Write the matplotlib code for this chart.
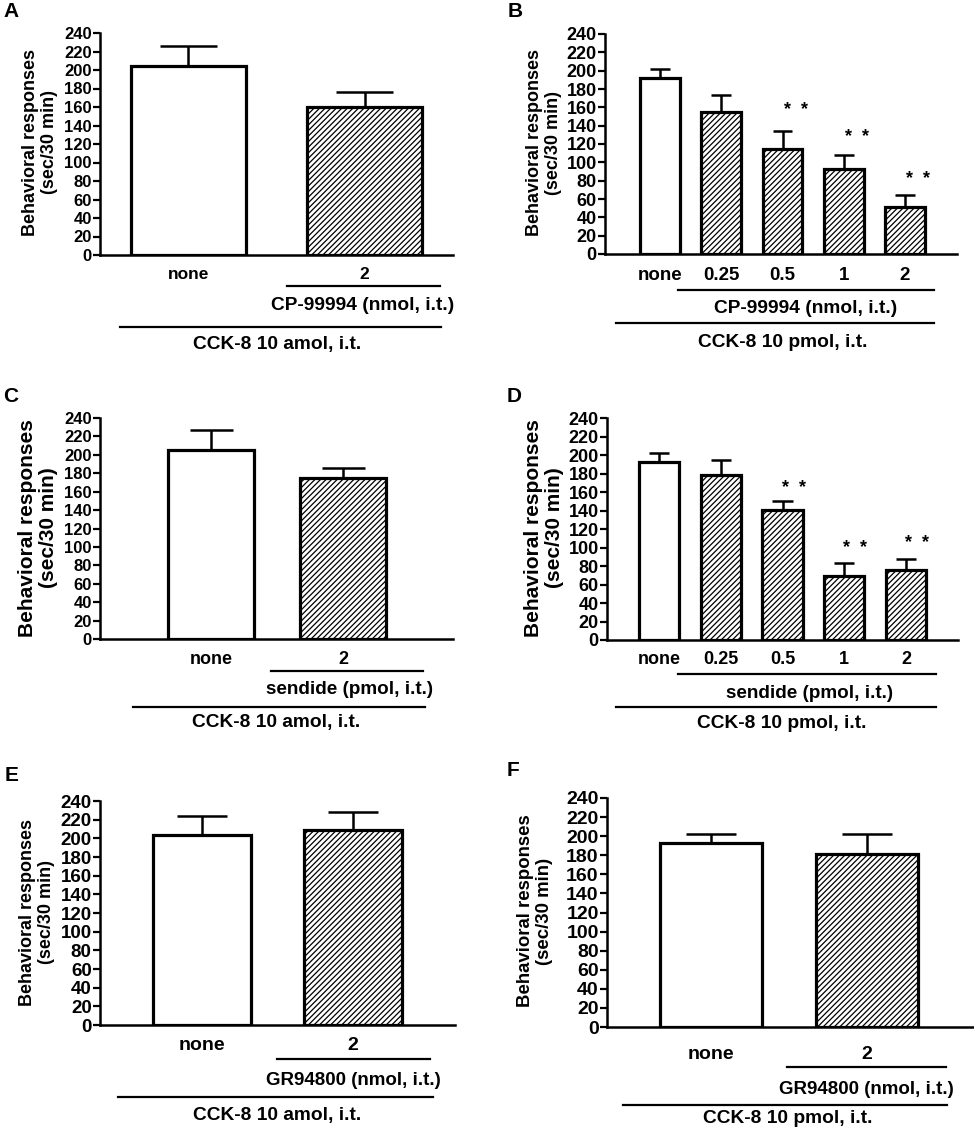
import numpy as np
import matplotlib
matplotlib.use("Agg")
import matplotlib.pyplot as plt
import matplotlib.transforms as mtransforms
from matplotlib.lines import Line2D

plt.rcParams['font.family'] = ['Liberation Sans', 'DejaVu Sans']
plt.rcParams['font.weight'] = 'bold'
plt.rcParams['hatch.linewidth'] = 0.9
plt.rcParams['hatch.color'] = 'black'

W, H = 974, 1128

# ---- data (mean, SEM) ----
two_groups = ['none', '2']
dose_groups = ['none', '0.25', '0.5', '1', '2']

a_mean = [204, 160]
a_sem = [22, 16]
b_mean = [192, 155, 115, 93, 51]
b_sem = [10, 19, 19, 15, 13]
c_mean = [205, 175]
c_sem = [22, 11]
d_mean = [192, 178, 141, 69, 76]
d_sem = [10, 17, 9, 14, 12]
e_mean = [204, 209]
e_sem = [20, 19]
f_mean = [193, 181]
f_sem = [9, 21]

# significance markers (group index, height of the ** mark)
b_stars = [(2, 157), (3, 127), (4, 81)]
d_stars = [(2, 164), (3, 99), (4, 104)]

ylabel = 'Behavioral responses\n(sec/30 min)'
yticks = np.arange(0, 241, 20)

fig = plt.figure(figsize=(W / 100, H / 100), dpi=100)


def fx(px):
    return px / W


def fy(py):
    return 1 - py / H


def make_axes(left, right, top, bottom, xlim):
    ax = fig.add_axes([fx(left), fy(bottom), (right - left) / W, (bottom - top) / H])
    ax.set_xlim(*xlim)
    ax.set_ylim(0, 240)
    ax.set_yticks(yticks)
    for s in ['top', 'right']:
        ax.spines[s].set_visible(False)
    for s in ['left', 'bottom']:
        ax.spines[s].set_linewidth(1.8)
    ax.set_xticks([])
    ax.tick_params(axis='y', length=5, width=1.6, pad=1)
    return ax


def draw_bars(ax, means, sems, width=0.65):
    x = np.arange(len(means))
    for xi, m, s in zip(x, means, sems):
        ax.vlines(xi, m, m + s, color='black', lw=1.8, zorder=2)
        ax.hlines(m + s, xi - width / 4, xi + width / 4, color='black', lw=1.8, zorder=2)
        ax.bar(xi, m, width=width, color='white', edgecolor='black', linewidth=2.3,
               hatch='' if xi == 0 else '//////', zorder=3)
    return x


def decorate(ax, labels, tick_size, tick_base, cat_size, letter, letter_xy,
             ylab_xy, ylab_size, lines, texts):
    for lab in ax.get_yticklabels():
        lab.set_fontsize(tick_size)
        lab.set_fontweight('bold')
    trans = mtransforms.blended_transform_factory(ax.transData, fig.transFigure)
    for i, lab in enumerate(labels):
        ax.text(i, fy(tick_base), lab, transform=trans, ha='center', va='baseline',
                fontsize=cat_size, fontweight='bold')
    fig.text(fx(letter_xy[0]), fy(letter_xy[1]), letter, ha='left', va='baseline',
             fontsize=15, fontweight='bold')
    fig.text(fx(ylab_xy[0]), fy(ylab_xy[1]), ylabel, rotation=90, ha='center', va='center',
             multialignment='center', fontsize=ylab_size, fontweight='bold', linespacing=1.1)
    for x0, x1, y in lines:
        fig.add_artist(Line2D([fx(x0), fx(x1)], [fy(y), fy(y)], color='black', lw=1.6))
    for x, y, t, size in texts:
        fig.text(fx(x), fy(y), t, ha='center', va='baseline', fontsize=size, fontweight='bold')


def add_stars(ax, stars, dx):
    for i, h in stars:
        ax.text(i + dx, h, '*  *', ha='center', va='center', fontsize=13, fontweight='bold')


# ---- A ----
ax = make_axes(100, 453, 33, 255, (-0.5, 1.5))
draw_bars(ax, a_mean, a_sem)
decorate(ax, two_groups, 12, 279, 12.5, 'A', (3, 17), (40, 142), 13,
         [(287, 440, 286), (120, 441, 327)],
         [(363, 310, 'CP-99994 (nmol, i.t.)', 13.8), (277, 349, 'CCK-8 10 amol, i.t.', 13.8)])

# ---- B ----
ax = make_axes(605, 957, 34, 254, (-0.9, 4.85))
draw_bars(ax, b_mean, b_sem)
add_stars(ax, b_stars, 0.22)
decorate(ax, dose_groups, 13, 280, 13.5, 'B', (508, 17), (544, 143), 13,
         [(678, 934, 290), (616, 934, 323)],
         [(806, 313, 'CP-99994 (nmol, i.t.)', 13.8), (783, 347, 'CCK-8 10 pmol, i.t.', 13.8)])

# ---- C ----
ax = make_axes(100, 453, 418, 639, (-0.84, 1.83))
draw_bars(ax, c_mean, c_sem)
decorate(ax, two_groups, 12, 664, 13, 'C', (3, 402), (38, 528), 15,
         [(271, 423, 671), (133, 425, 707)],
         [(350, 694, 'sendide (pmol, i.t.)', 13.6), (276, 727, 'CCK-8 10 amol, i.t.', 13.8)])

# ---- D ----
ax = make_axes(607, 958, 418, 640, (-0.84, 4.84))
draw_bars(ax, d_mean, d_sem)
add_stars(ax, d_stars, 0.18)
decorate(ax, dose_groups, 13, 664, 13, 'D', (507, 402), (544, 528), 15,
         [(678, 936, 674), (616, 936, 707)],
         [(810, 698, 'sendide (pmol, i.t.)', 13.6), (782, 728, 'CCK-8 10 pmol, i.t.', 13.8)])

# ---- E ----
ax = make_axes(100, 455, 801, 1025, (-0.675, 1.675))
draw_bars(ax, e_mean, e_sem)
decorate(ax, two_groups, 13.5, 1050, 14, 'E', (5, 781), (37, 912), 13,
         [(277, 430, 1059), (118, 433, 1097)],
         [(353, 1085, 'GR94800 (nmol, i.t.)', 13.5), (277, 1120, 'CCK-8 10 amol, i.t.', 13.8)])

# ---- F ----
ax = make_axes(607, 973, 798, 1027, (-0.667, 1.68))
draw_bars(ax, f_mean, f_sem)
decorate(ax, two_groups, 14, 1059, 14, 'F', (507, 776), (535, 911), 13.4,
         [(787, 946, 1067), (623, 947, 1105)],
         [(866, 1094, 'GR94800 (nmol, i.t.)', 13.5), (788, 1123, 'CCK-8 10 pmol, i.t.', 13.8)])

fig.savefig('out.png', dpi=100, facecolor='white')
